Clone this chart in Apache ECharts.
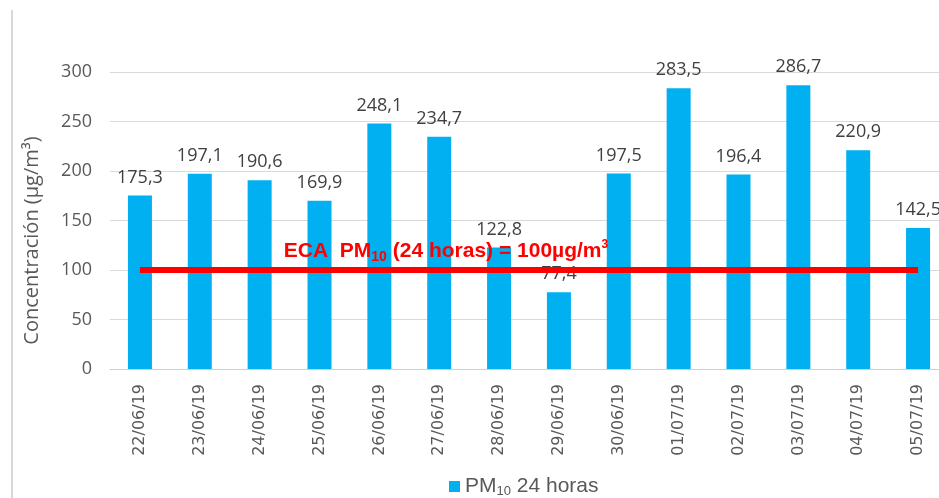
<!DOCTYPE html>
<html><head><meta charset="utf-8">
<script src="https://cdn.jsdelivr.net/npm/echarts@6/dist/echarts.min.js"></script>
<style>html,body{margin:0;padding:0;background:#fff}#c{width:939px;height:498px}</style>
</head><body><div id="c"></div>
<script>
const categories = ['22/06/19','23/06/19','24/06/19','25/06/19','26/06/19','27/06/19','28/06/19','29/06/19','30/06/19','01/07/19','02/07/19','03/07/19','04/07/19','05/07/19'];
const pm10Values = [175.3,197.1,190.6,169.9,248.1,234.7,122.8,77.4,197.5,283.5,196.4,286.7,220.9,142.5];
const yTicks = [0,50,100,150,200,250,300];
const limitValue = 100;

const chart = echarts.init(document.getElementById('c'));
chart.setOption({
  animation:false,
  grid:{left:110,width:838,top:72,bottom:129,outerBoundsMode:'none',containLabel:false},
  legend:{
    data:['PM10'],
    top:471,left:444,itemWidth:11,itemHeight:11,itemGap:6,
    icon:'rect',
    formatter:()=>'{a|PM}{b|10}{a| 24 horas}',
    textStyle:{rich:{
      a:{fontFamily:'Liberation Sans',fontSize:21,color:'#595959'},
      b:{fontFamily:'Liberation Sans',fontSize:13,color:'#595959',verticalAlign:'bottom',padding:[10,0,0,0]}
    }}
  },
  xAxis:{
    type:'category',data:categories,
    axisLine:{lineStyle:{color:'#d0d0d0',width:1}},
    axisTick:{show:false},
    axisLabel:{rotate:90,margin:15,fontFamily:'DejaVu Sans',fontSize:16,color:'#595959'}
  },
  yAxis:{
    type:'value',min:yTicks[0],max:yTicks[yTicks.length-1],interval:50,
    name:'Concentración (µg/m³)',nameLocation:'middle',nameGap:68,
    nameTextStyle:{fontFamily:'Open Sans',fontSize:20,color:'#595959',padding:[0,40,0,0]},
    axisLine:{show:false},axisTick:{show:false},
    axisLabel:{margin:18,fontFamily:'Open Sans',fontSize:18,color:'#595959'},
    splitLine:{lineStyle:{color:'#d9d9d9',width:1}}
  },
  series:[{
    name:'PM10',type:'bar',data:pm10Values,barWidth:24,
    itemStyle:{color:'#00B0F0'},
    label:{show:true,position:'top',distance:9,fontFamily:'Open Sans',fontSize:18,color:'#404040',
      formatter:p=>String(p.value).replace('.',',')},
    markLine:{
      symbol:['none','none'],silent:true,
      lineStyle:{color:'#FF0000',width:6,type:'solid'},
      label:{
        show:true,position:'insideMiddleTop',offset:[-83,-1],
        formatter:()=>'{t|ECA  PM}{s|10}{t| (24 horas) = 100µg/m}{p|3}',
        rich:{
          t:{fontFamily:'Liberation Sans',fontWeight:'bold',fontSize:21,color:'#FF0000'},
          s:{fontFamily:'Liberation Sans',fontWeight:'bold',fontSize:14,color:'#FF0000',verticalAlign:'bottom',padding:[11,0,0,0]},
          p:{fontFamily:'Liberation Sans',fontWeight:'bold',fontSize:12,color:'#FF0000',verticalAlign:'top',padding:[0,0,10,0]}
        }
      },
      data:[[{xAxis:0,yAxis:limitValue},{xAxis:categories.length-1,yAxis:limitValue}]]
    }
  }],
  graphic:[{type:'rect',shape:{x:11,y:10,width:2,height:488},style:{fill:'#d8d8d8'},silent:true}]
});
</script></body></html>
